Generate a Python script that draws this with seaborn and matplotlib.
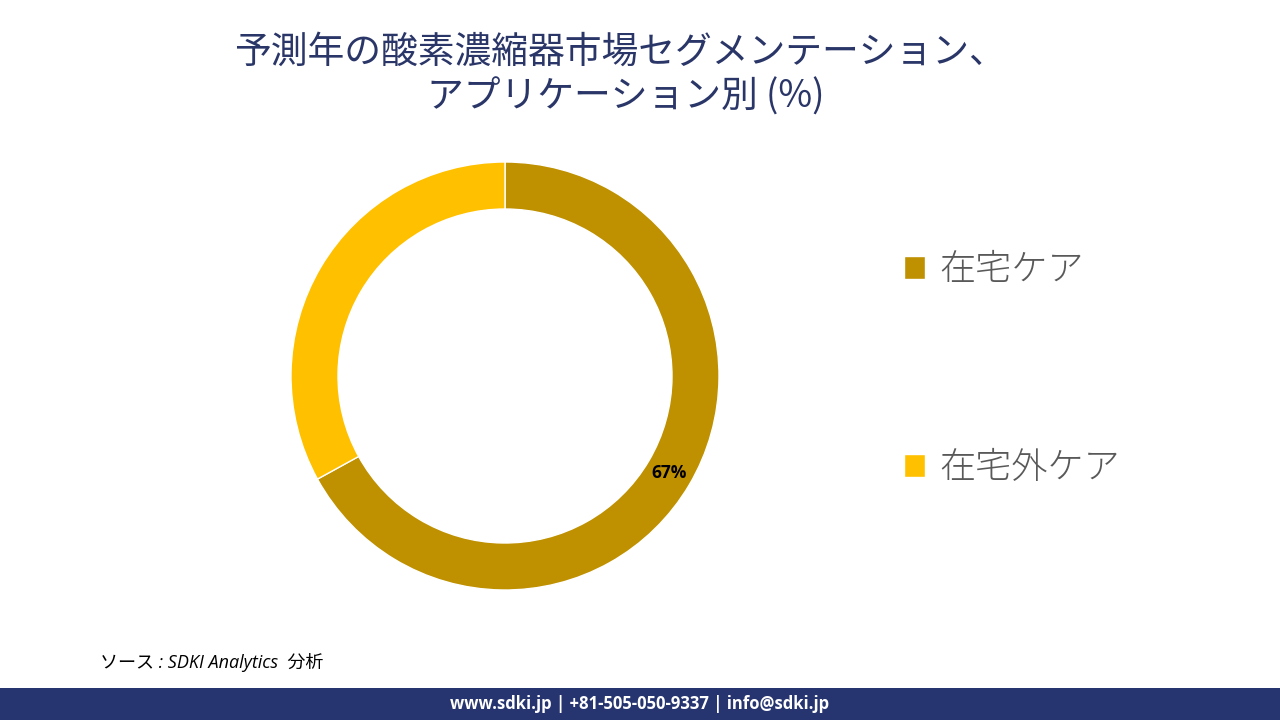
import matplotlib
matplotlib.use("Agg")
import matplotlib.pyplot as plt
import seaborn as sns
from matplotlib.patches import Rectangle

sns.set_theme(style="white")
plt.rcParams['font.family'] = ['Noto Sans CJK JP', 'DejaVu Sans']

# Data
categories = ["在宅ケア", "在宅外ケア"]
shares = [67, 33]
colors = ["#BF9000", "#FFC000"]
title_lines = ["予測年の酸素濃縮器市場セグメンテーション、", "アプリケーション別 (%)"]
source_text = "ソース : SDKI Analytics  分析"
footer_text = "www.sdki.jp | +81-505-050-9337 | info@sdki.jp"

fig = plt.figure(figsize=(12.8, 7.2), dpi=100)
fig.patch.set_facecolor("white")

ax = fig.add_axes([505/1280 - 214/1280, (720-590)/720, 428/1280, 428/720])
wedges, texts, autotexts = ax.pie(
    shares, colors=colors, startangle=90, counterclock=False, radius=1.0,
    wedgeprops=dict(width=47/214, edgecolor="white", linewidth=1),
    autopct=lambda p: f"{p:.0f}%" if p > 50 else "", pctdistance=0.89,
    textprops=dict(fontsize=12.5, fontweight="bold", color="black"))
for t in autotexts:
    t.set_family(['Open Sans', 'DejaVu Sans'])
ax.set_xlim(-1, 1)
ax.set_ylim(-1, 1)
ax.set_aspect("equal")
ax.axis("off")

# Legend
leg = fig.legend(wedges, categories, loc="upper left", bbox_to_anchor=(871/1280, 1 - 218/720),
                 frameon=False, prop=dict(size=26, weight="light"), labelcolor="#595959",
                 handlelength=0.6, handleheight=0.6, handletextpad=0.4, labelspacing=4.42)

# Title
fig.text(620/1280, 1 - 52/720, title_lines[0], ha="center", va="center",
         fontsize=26.5, color="#2A3668")
fig.text(626/1280, 1 - 97/720, title_lines[1], ha="center", va="center",
         fontsize=26.5, color="#2A3668")

# Source
fig.text(100/1280, 1 - 663/720, source_text, ha="left", va="center",
         fontsize=13, style="italic", color="black",
         family=['Open Sans', 'Noto Sans CJK JP'])

# Footer bar
fig.patches.append(Rectangle((0, 0), 1, 32/720, transform=fig.transFigure,
                             facecolor="#263570", edgecolor="none", zorder=0))
fig.text(0.5, 16/720, footer_text, ha="center", va="center", fontsize=12,
         fontweight="bold", color="white", family=['Open Sans', 'DejaVu Sans'])

fig.savefig("out.png", dpi=100, facecolor="white")
